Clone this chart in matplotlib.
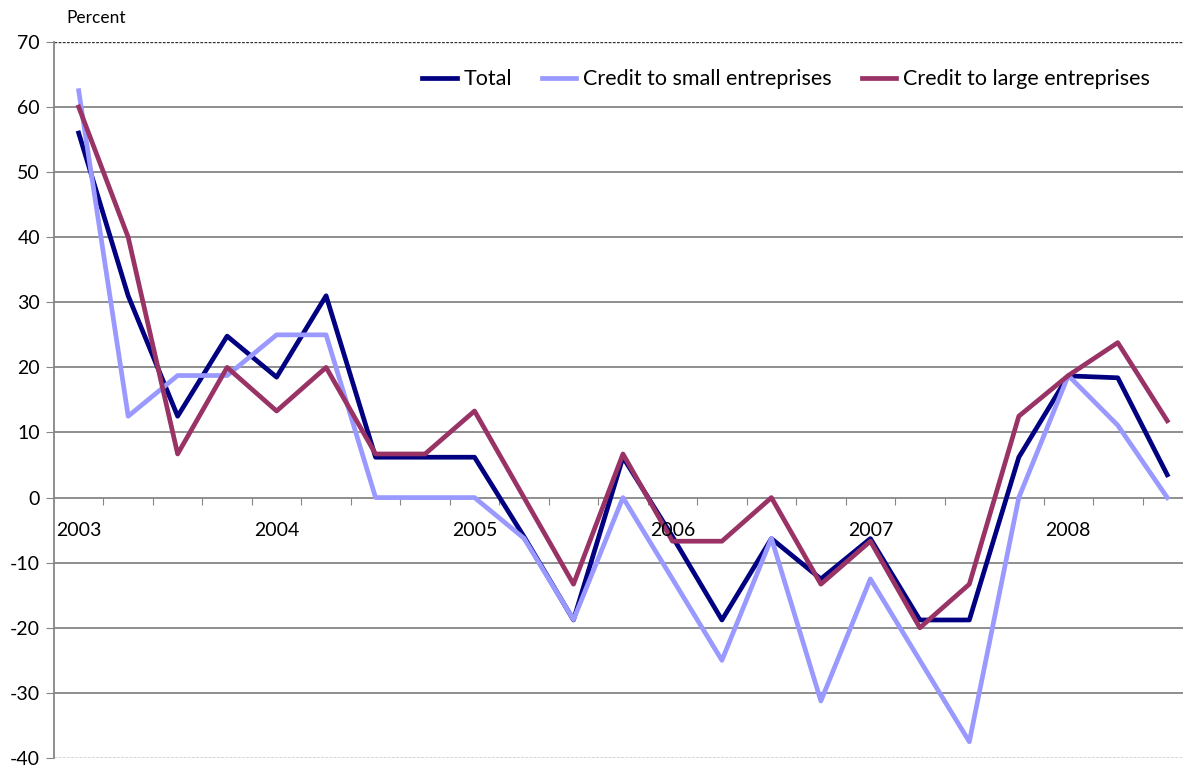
import matplotlib
matplotlib.use("Agg")
import matplotlib.pyplot as plt
import numpy as np

plt.rcParams["font.family"] = ["Lato", "DejaVu Sans"]
plt.rcParams["axes.unicode_minus"] = False

# quarterly, 2003Q1 - 2008Q3
years = ["2003", "2004", "2005", "2006", "2007", "2008"]
total = [56, 31, 12.5, 24.8, 18.5, 31, 6.2, 6.2, 6.2, -6, -18.8, 6.2,
         -6, -18.8, -6.3, -12.5, -6.3, -18.8, -18.8, 6.2, 18.7, 18.4, 3.5]
small = [62.5, 12.5, 18.75, 18.75, 25, 25, 0, 0, 0, -6.25, -18.75, 0,
         -12.5, -25, -6.25, -31.25, -12.5, -25, -37.5, 0, 18.75, 11.1, 0]
large = [60, 40, 6.7, 20, 13.3, 20, 6.7, 6.7, 13.3, 0, -13.3, 6.7,
         -6.7, -6.7, 0, -13.3, -6.7, -20, -13.3, 12.5, 18.75, 23.8, 11.8]

x = np.arange(len(total))

fig = plt.figure(figsize=(11.83, 7.70), dpi=100)
# plot area runs a little past the right edge, as in the original
ax = fig.add_axes([0.0456, 0.0156, 0.962, 0.93])

grey = "#868686"
for v in range(-30, 70, 10):
    if v != 0:
        ax.axhline(v, color=grey, lw=1.3, zorder=1)
ax.axhline(70, color="#333333", lw=1, ls=(0, (2, 1)), zorder=1)
ax.axhline(-40, color="#333333", lw=1, ls=(0, (2, 1)), zorder=1)

ax.plot(x, total, color="#000080", lw=3.4, label="Total", zorder=3)
ax.plot(x, small, color="#9999FF", lw=3.4, label="Credit to small entreprises", zorder=3)
ax.plot(x, large, color="#993366", lw=3.4, label="Credit to large entreprises", zorder=3)

ax.set_xlim(-0.5, len(total) - 0.5)
ax.set_ylim(-40, 70)
ax.set_yticks(range(-40, 80, 10))
ax.tick_params(axis="y", direction="out", length=6, color=grey, labelsize=14, pad=4)

ax.spines["top"].set_visible(False)
ax.spines["right"].set_visible(False)
ax.spines["left"].set_color(grey)
ax.spines["left"].set_linewidth(1.3)
ax.spines["bottom"].set_position(("data", 0))
ax.spines["bottom"].set_color(grey)
ax.spines["bottom"].set_linewidth(1.3)
ax.set_xticks(np.arange(0.5, len(total) - 0.5, 1))
ax.set_xticklabels([])
ax.tick_params(axis="x", direction="out", length=5, color=grey)

for i, yr in enumerate(years):
    ax.text(i * 4, -5, yr, ha="center", va="center", fontsize=14)

fig.text(0.056, 0.977, "Percent", fontsize=12.5, va="center")

ax.legend(loc="upper right", bbox_to_anchor=(0.988, 0.935), bbox_transform=fig.transFigure,
          ncol=3, frameon=False, fontsize=15.5, handlelength=1.6, handletextpad=0.3,
          columnspacing=1.4)

fig.savefig("out.png", dpi=100)
